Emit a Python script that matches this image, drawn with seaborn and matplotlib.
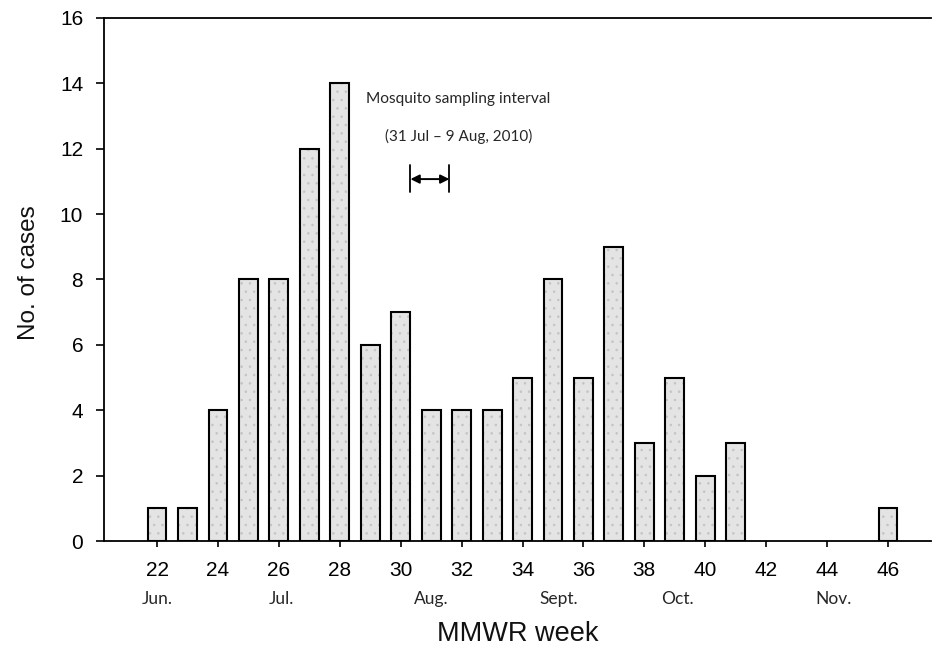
import matplotlib
matplotlib.use("Agg")
import pandas as pd
import seaborn as sns
import matplotlib.pyplot as plt

# Cases per MMWR week
weeks = [22, 23, 24, 25, 26, 27, 28, 29, 30, 31, 32, 33, 34, 35, 36, 37, 38, 39, 40, 41, 46]
cases = [1, 1, 4, 8, 8, 12, 14, 6, 7, 4, 4, 4, 5, 8, 5, 9, 3, 5, 2, 3, 1]

# Month labels under the week axis
months = ["Jun.", "Jul.", "Aug.", "Sept.", "Oct.", "Nov."]
month_pos = [22, 26.1, 31.0, 35.2, 39.1, 44.2]

df = pd.DataFrame({"week": weeks, "cases": cases})

sns.set_style("ticks")
plt.rcParams["font.family"] = ["Liberation Sans", "DejaVu Sans"]
plt.rcParams["hatch.linewidth"] = 0.6

fig = plt.figure(figsize=(9.33, 6.49), dpi=100)
ax = fig.add_axes([0.1115, 0.1664, 0.886, 0.806])

# dotted light-grey fill
sns.barplot(data=df, x="week", y="cases", native_scale=True, width=0.62,
            color="#e4e4e4", linewidth=0, ax=ax)
for p in ax.patches:
    p.set_facecolor("#e4e4e4")
    p.set_edgecolor("#c4c4c4")
    p.set_hatch("..")
# black outlines
sns.barplot(data=df, x="week", y="cases", native_scale=True, width=0.62,
            fill=False, color="black", linewidth=1.5, ax=ax)

ax.set_xlim(20.26, 47.4)
ax.set_ylim(0, 16)
ax.set_xticks(range(22, 47, 2))
ax.set_yticks(range(0, 17, 2))
ax.tick_params(axis="both", labelsize=15, width=1.2, colors="black", direction="out")
ax.tick_params(axis="x", length=4.5, pad=10)
ax.tick_params(axis="y", length=6, pad=9)

for side in ["left", "bottom", "top"]:
    ax.spines[side].set_linewidth(1.3)
    ax.spines[side].set_color("black")
ax.spines["right"].set_visible(False)

ax.set_xlabel("MMWR week", fontsize=19.5, color="#111111")
ax.xaxis.label.set_va("center")
ax.xaxis.set_label_coords(0.5, -0.178)
ax.set_ylabel("No. of cases", fontsize=17.5, color="#111111")
ax.yaxis.label.set_va("center")
ax.yaxis.set_label_coords(-0.091, 0.514)

for m, pos in zip(months, month_pos):
    ax.text(pos, -1.78, m, ha="center", va="center", fontsize=12.5,
            family=["Lato", "DejaVu Sans"], clip_on=False)

# Sampling interval annotation
ax.text(31.9, 13.53, "Mosquito sampling interval", ha="center", va="center",
        fontsize=11.2, family=["Lato", "DejaVu Sans"])
ax.text(31.9, 12.36, "(31 Jul \u2013 9 Aug, 2010)", ha="center", va="center",
        fontsize=11, family=["Lato", "DejaVu Sans"])
ax.annotate("", xy=(30.32, 11.07), xytext=(31.6, 11.07),
            arrowprops=dict(arrowstyle="<|-|>", color="black", lw=1.4,
                            mutation_scale=13, shrinkA=0, shrinkB=0))
ax.plot([30.32, 30.32], [10.67, 11.5], color="black", lw=1.3)
ax.plot([31.6, 31.6], [10.67, 11.5], color="black", lw=1.3)

fig.savefig("out.png", dpi=100)
